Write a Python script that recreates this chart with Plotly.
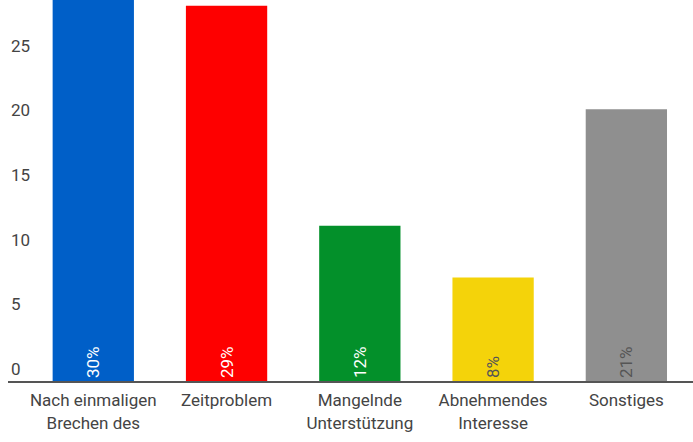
import plotly.graph_objects as go

categories = ["Nach einmaligen<br>Brechen des", "Zeitproblem", "Mangelnde<br>Unterstützung",
              "Abnehmendes<br>Interesse", "Sonstiges"]
values = [30, 29, 12, 8, 21]
labels = ["30%", "29%", "12%", "8%", "21%"]
bar_colors = ["#005FC8", "#FE0000", "#03902A", "#F4D30A", "#8F8F8F"]
text_colors = ["#FFFFFF", "#FFFFFF", "#FFFFFF", "#555555", "#555555"]
y_ticks = [0, 5, 10, 15, 20, 25]

FONT = "Roboto, sans-serif"

fig = go.Figure(go.Bar(
    x=list(range(len(categories))),
    y=values,
    marker=dict(color=bar_colors, line=dict(width=0)),
    text=labels,
    textposition="inside",
    insidetextanchor="start",
    textangle=-90,
    textfont=dict(family=FONT, size=17, color=text_colors),
    constraintext="none",
    hoverinfo="skip",
))

fig.update_layout(
    width=693, height=442,
    margin=dict(l=8, r=0, t=0, b=61),
    plot_bgcolor="white", paper_bgcolor="white",
    bargap=0.39,
    showlegend=False,
    font=dict(family=FONT, color="#444444", size=17),
    xaxis=dict(
        range=[-0.64, 4.5],
        tickvals=list(range(len(categories))),
        ticktext=categories,
        showline=True, linecolor="#555555", linewidth=2,
        showgrid=False, zeroline=False, ticks="",
        ticklabelstandoff=3,
        automargin=False,
        tickfont=dict(family=FONT, size=17, color="#444444"),
    ),
    yaxis=dict(
        range=[0, 29.44],
        tickvals=y_ticks,
        ticklabelposition="inside top",
        showgrid=False, zeroline=False, showline=False, ticks="",
        automargin=False,
        tickfont=dict(family=FONT, size=17, color="#444444"),
    ),
)

fig.write_html("out.html", config={"displayModeBar": False},
               post_script="document.body.style.margin='0';")
